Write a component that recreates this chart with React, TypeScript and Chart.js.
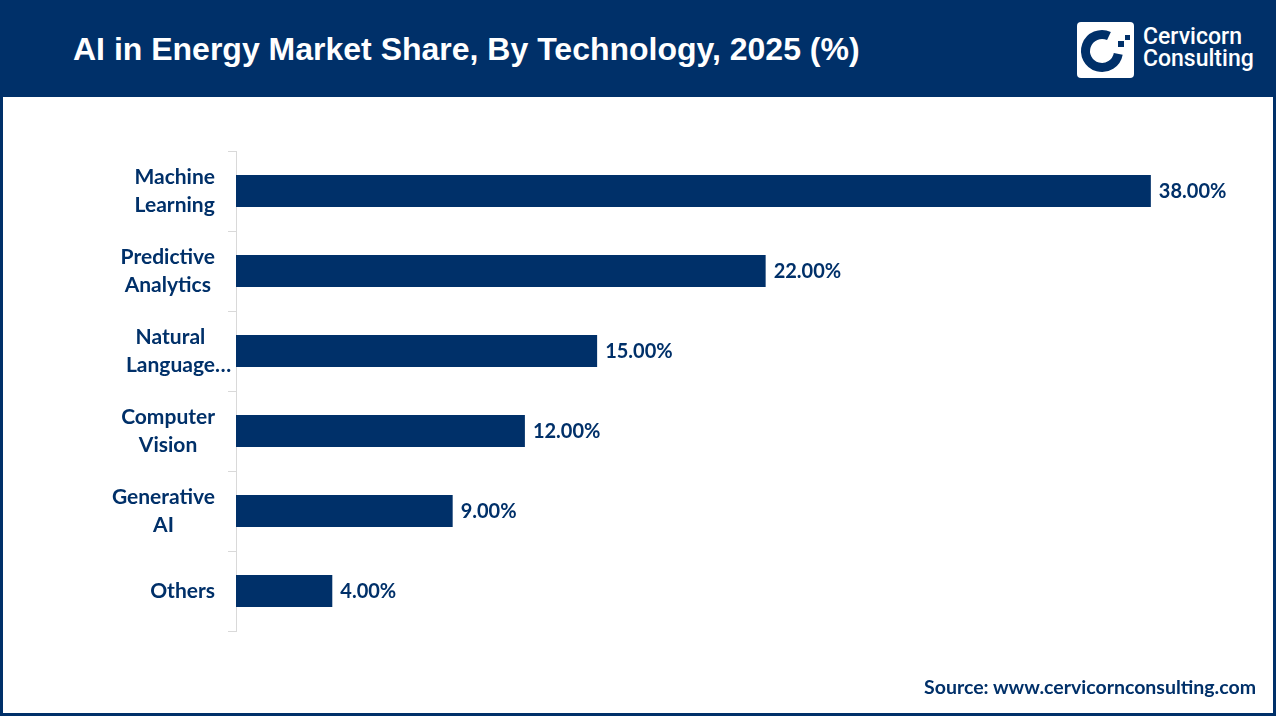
import React, { useEffect, useRef } from "react";
import { Chart, registerables } from "chart.js";

Chart.register(...registerables);

const NAVY = "#003069";
const TITLE = "AI in Energy Market Share, By Technology, 2025 (%)";
const SOURCE = "Source: www.cervicornconsulting.com";

const categories: string[][] = [
  ["Machine", "Learning"],
  ["Predictive", "Analytics"],
  ["Natural", "Language…"],
  ["Computer", "Vision"],
  ["Generative", "AI"],
  ["Others"],
];
const shares: number[] = [38, 22, 15, 12, 9, 4];
const valueLabels: string[] = shares.map((v) => v.toFixed(2) + "%");

const labelPlugin = {
  id: "customLabels",
  afterDatasetsDraw(chart: any) {
    const { ctx } = chart;
    const yScale = chart.scales.y;
    const meta = chart.getDatasetMeta(0);
    ctx.save();
    // value labels
    ctx.font = "bold 20px Lato";
    ctx.fillStyle = NAVY;
    ctx.textAlign = "left";
    ctx.textBaseline = "middle";
    meta.data.forEach((bar: any, i: number) => {
      ctx.fillText(valueLabels[i], bar.x + 8, bar.y + 1);
    });
    // category labels
    ctx.font = "bold 21px Lato";
    const right = 215;
    const lh = 28;
    categories.forEach((lines, i) => {
      const y = yScale.getPixelForValue(i);
      const widths = lines.map((l) => ctx.measureText(l.replace("…", "")).width);
      const maxW = Math.max(...widths);
      const cx = right - maxW / 2;
      lines.forEach((l, j) => {
        const ly = y - ((lines.length - 1) * lh) / 2 + j * lh;
        ctx.textAlign = "left";
        ctx.fillText(l, cx - widths[j] / 2, ly);
      });
    });
    ctx.restore();
  },
};

export default function App() {
  const ref = useRef<HTMLCanvasElement | null>(null);
  useEffect(() => {
    document.body.style.margin = "0";
    if (!ref.current) return;
    const chart = new Chart(ref.current, {
      type: "bar",
      data: {
        labels: categories.map((c) => c.join(" ")),
        datasets: [
          {
            data: shares,
            backgroundColor: NAVY,
            barPercentage: 0.4,
            categoryPercentage: 1,
          },
        ],
      },
      options: {
        indexAxis: "y",
        animation: false,
        responsive: false,
        layout: { padding: { left: 0, top: 151, bottom: 89, right: 81 } },
        plugins: { legend: { display: false }, tooltip: { enabled: false } },
        scales: {
          x: { display: false, min: 0, max: 40 },
          y: {
            afterFit: (s: any) => {
              s.width = 236;
            },
            ticks: { display: false },
            grid: {
              drawOnChartArea: false,
              drawTicks: true,
              tickLength: 8,
              color: "#d9d9d9",
              offset: true,
            },
            border: { display: true, color: "#d9d9d9", width: 1 },
          },
        },
      },
      plugins: [labelPlugin],
    });
    return () => chart.destroy();
  }, []);

  return (
    <div
      style={{
        position: "fixed",
        left: 0,
        top: 0,
        width: 1280,
        height: 720,
        background: "#ffffff",
        overflow: "hidden",
      }}
    >
      <div
        style={{
          position: "absolute",
          left: 0,
          top: 0,
          width: 1276,
          height: 716,
          border: `3px solid ${NAVY}`,
          boxSizing: "border-box",
        }}
      />
      <div
        style={{
          position: "absolute",
          left: 0,
          top: 0,
          width: 1276,
          height: 97,
          background: NAVY,
        }}
      />
      <div
        style={{
          position: "absolute",
          left: 73,
          top: 31,
          height: 40,
          lineHeight: "40px",
          color: "#fff",
          font: "bold 32px 'Liberation Sans', Arial, sans-serif",
          whiteSpace: "nowrap",
        }}
      >
        {TITLE}
      </div>
      <svg
        style={{ position: "absolute", left: 1077, top: 22 }}
        width={57}
        height={56}
        viewBox="0 0 57 56"
      >
        <rect x={0} y={0} width={57} height={56} rx={4} fill="#fff" />
        <path
          d={(() => {
            const cx = 25, cy = 29, r = 16.5;
            const a1 = (10 * Math.PI) / 180;
            const a2 = (-65 * Math.PI) / 180;
            const x1 = cx + r * Math.cos(a1), y1 = cy + r * Math.sin(a1);
            const x2 = cx + r * Math.cos(a2), y2 = cy + r * Math.sin(a2);
            return `M ${x1} ${y1} A ${r} ${r} 0 1 1 ${x2} ${y2}`;
          })()}
          stroke={NAVY}
          strokeWidth={9}
          fill="none"
        />
        <rect x={41} y={19} width={6} height={6} fill={NAVY} />
        <rect x={48} y={13} width={5} height={5} fill={NAVY} />
      </svg>
      <div
        style={{
          position: "absolute",
          left: 1143,
          top: 26,
          color: "#fff",
          font: "500 23px Roboto, sans-serif",
          lineHeight: "22px",
          whiteSpace: "nowrap",
        }}
      >
        Cervicorn
        <br />
        Consulting
      </div>
      <canvas
        ref={ref}
        width={1280}
        height={720}
        style={{ position: "absolute", left: 0, top: 0, width: 1280, height: 720 }}
      />
      <div
        style={{
          position: "absolute",
          right: 1280 - 1256,
          top: 675,
          color: NAVY,
          font: "bold 19.5px Lato, sans-serif",
          lineHeight: "24px",
          whiteSpace: "nowrap",
        }}
      >
        {SOURCE}
      </div>
    </div>
  );
}
